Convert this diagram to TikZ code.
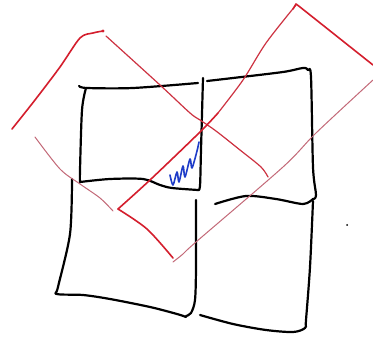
\documentclass[tikz,border=0pt]{standalone}
\definecolor{rthick}{RGB}{212,30,45}
\definecolor{rmid}{RGB}{205,50,65}
\definecolor{rfaint}{RGB}{195,105,120}
\definecolor{bpen}{RGB}{30,60,200}
\begin{document}
\begin{tikzpicture}[x=1pt,y=-1pt,line cap=round,line join=round,
  ink/.style={draw=black,line width=2.2pt},
  redthick/.style={draw=rthick,line width=1.6pt},
  redmid/.style={draw=rmid,line width=1.2pt},
  redfaint/.style={draw=rfaint,line width=1pt},
  bluepen/.style={draw=bpen,line width=1.6pt}]
\useasboundingbox[fill=white] (0,0) rectangle (373,337);
% black squares
\draw[ink] plot[smooth] coordinates {(79,86) (87,88) (133,88) (198,83)};
\draw[ink] plot[smooth] coordinates {(86,88) (82,110) (80,170) (80,182)};
\draw[ink] plot[smooth] coordinates {(80,182) (110,179) (143,179) (160,185) (172,188) (198,190)};
\draw[ink] plot[smooth] coordinates {(198,190) (200,186) (201,150) (203,78)};
\draw[ink] plot[smooth,tension=0.5] coordinates {(207,81) (233,78) (283,72) (303,68) (308,70) (311,77) (313,167) (316,195) (313,199)};
\draw[ink] plot[smooth] coordinates {(215,204) (246,196) (276,199) (303,204) (313,199)};
\draw[ink] plot[smooth,tension=0.5] coordinates {(313,201) (310,267) (306,320) (305,328) (293,332) (266,330) (233,324) (200,315)};
\draw[ink] plot[smooth] coordinates {(196,200) (196,267) (195,300) (191,313) (186,316)};
\draw[ink] plot[smooth,tension=0.5] coordinates {(72,179) (70,234) (58,287) (57,294) (83,295) (110,299) (150,307) (177,314) (186,317)};
% red lines
\draw[redthick] plot[smooth,tension=0.5] coordinates {(12,129) (35,100) (60,67) (80,38) (93,33) (103,31)};
\fill[rthick] (103,31) circle (1.6);
\draw[redmid] plot[smooth] coordinates {(106,36) (160,85) (190,113) (200,120) (216,131) (240,150) (261,167) (268,177)};
\draw[redfaint] plot[smooth] coordinates {(35,137) (60,169) (80,184) (100,198) (113,211)};
\draw[redmid] plot[smooth] coordinates {(296,5) (266,43) (243,80) (218,113)};
\draw[redthick] plot[smooth] coordinates {(218,113) (200,132) (150,180) (118,209)};
\draw[redthick] plot[smooth] coordinates {(118,209) (147,229) (173,258)};
\draw[redthick] (293,9) -- (296,4) -- (300,7) -- (373,65);
\draw[redfaint] plot[smooth] coordinates {(173,262) (183,254) (196,242) (283,167) (316,133) (373,80)};
% blue scribble
\draw[bluepen] plot[smooth] coordinates {(170,175) (173,185) (177,172) (179,182) (183,166) (185,177) (190,159) (192,168) (197,151) (199,142)};
% dot
\fill (347,225) circle (1);
\end{tikzpicture}
\end{document}
